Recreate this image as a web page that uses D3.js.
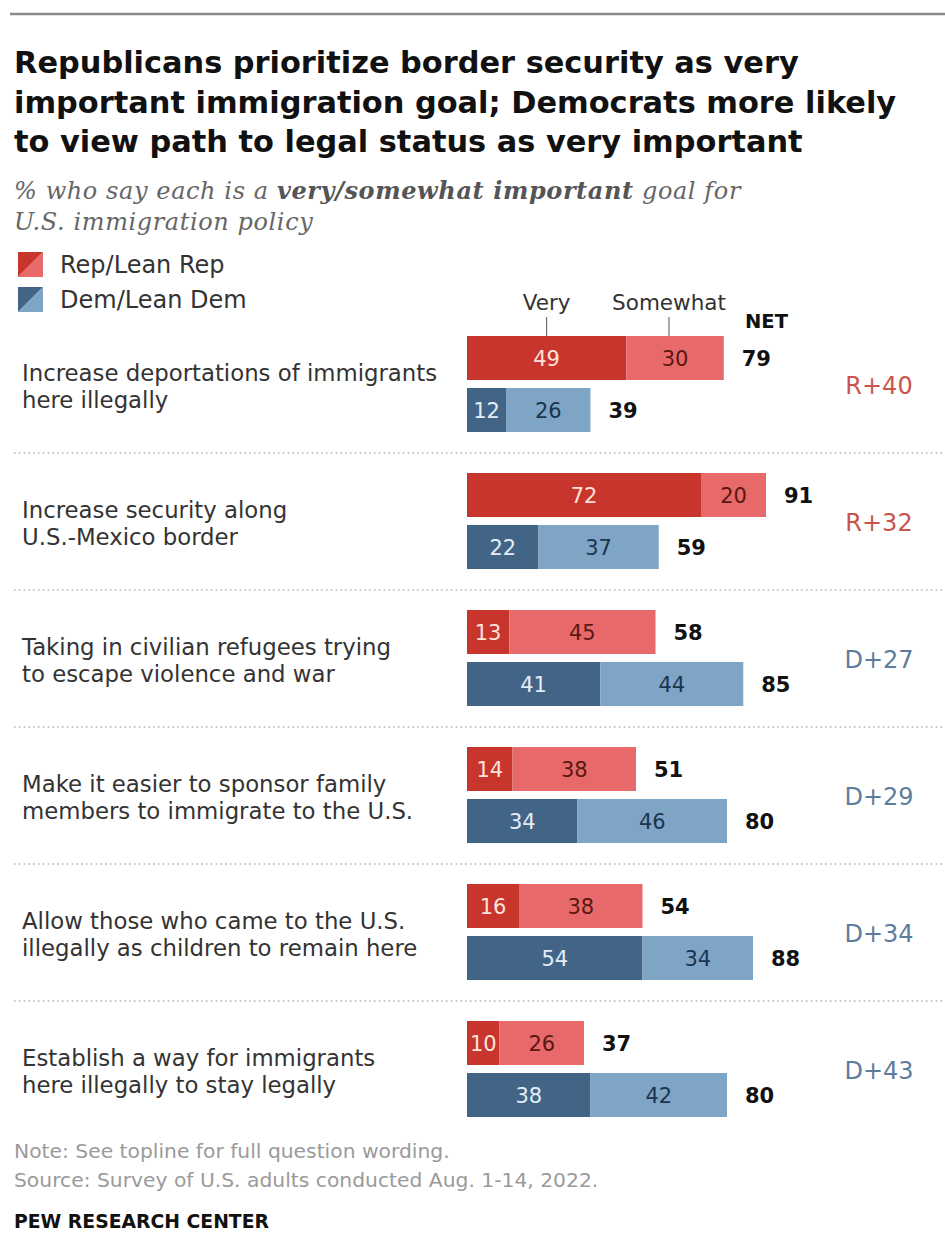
<!DOCTYPE html>
<html>
<head>
<meta charset="utf-8">
<script src="https://cdn.jsdelivr.net/npm/d3@7"></script>
<style>
  body { margin: 0; background: #fff; }
  text { font-family: "DejaVu Sans", sans-serif; }
</style>
</head>
<body>
<div id="chart"></div>
<script>
/* Pew partisan goals chart */

const categories = [
  ["Increase deportations of immigrants", "here illegally"],
  ["Increase security along", "U.S.-Mexico border"],
  ["Taking in civilian refugees trying", "to escape violence and war"],
  ["Make it easier to sponsor family", "members to immigrate to the U.S."],
  ["Allow those who came to the U.S.", "illegally as children to remain here"],
  ["Establish a way for immigrants", "here illegally to stay legally"]
]
const repVery = [49, 72, 13, 14, 16, 10]
const repSomewhat = [30, 20, 45, 38, 38, 26]
const repNet = [79, 91, 58, 51, 54, 37]
const demVery = [12, 22, 41, 34, 54, 38]
const demSomewhat = [26, 37, 44, 46, 34, 42]
const demNet = [39, 59, 85, 80, 88, 80]
const gaps = ["R+40", "R+32", "D+27", "D+29", "D+34", "D+43"]

const W = 945, H = 1252
const colors = {
  repDark: "#c8352c", repLight: "#e8696a",
  demDark: "#426587", demLight: "#7ea5c6"
}

const svg = d3.select("#chart").append("svg")
  .attr("width", W)
  .attr("height", H)

// top rule
svg.append("line")
  .attr("x1", 10).attr("x2", W)
  .attr("y1", 14).attr("y2", 14)
  .attr("stroke", "#8a8a8a")
  .attr("stroke-width", 2.5)

// title
const titleLines = [
  "Republicans prioritize border security as very",
  "important immigration goal; Democrats more likely",
  "to view path to legal status as very important"
]
svg.selectAll(".title")
  .data(titleLines)
  .join("text")
  .attr("class", "title")
  .attr("x", 14)
  .attr("y", (d, i) => 73 + i * 39.5)
  .style("font-size", "30.4px")
  .style("font-weight", "bold")
  .style("fill", "#111")
  .text(d => d)

// subtitle
const subStyle = sel => sel
  .style("font-family", "'DejaVu Serif', serif")
  .style("font-style", "italic")
  .style("font-size", "24px")
  .style("letter-spacing", "0.6px")
  .style("fill", "#666")
const sub = svg.append("text")
  .attr("x", 14).attr("y", 199)
  .call(subStyle)
sub.append("tspan").text("% who say each is a ")
sub.append("tspan").style("font-weight", "bold").style("fill", "#555").text("very/somewhat important")
sub.append("tspan").text(" goal for")
svg.append("text")
  .attr("x", 14).attr("y", 230)
  .call(subStyle)
  .text("U.S. immigration policy")

// legend with diagonal split swatches
const legend = [
  { label: "Rep/Lean Rep", dark: colors.repDark, light: colors.repLight },
  { label: "Dem/Lean Dem", dark: colors.demDark, light: colors.demLight }
]
legend.forEach((d, i) => {
  let y = 252 + i * 35
  let g = svg.append("g").attr("transform", `translate(18,${y})`)
  g.append("path").attr("d", "M0,0H25L0,25Z").attr("fill", d.dark)
  g.append("path").attr("d", "M25,0V25H0Z").attr("fill", d.light)
  svg.append("text")
    .attr("x", 60).attr("y", y + 21)
    .style("font-size", "24px")
    .style("fill", "#333")
    .text(d.label)
})

// scales
const x = d3.scaleLinear().domain([0, 100]).range([467, 792])
const y = d3.scaleBand()
  .domain(d3.range(categories.length))
  .range([316, 316 + 137 * categories.length])
const barH = 44

const rows = categories.map((c, i) => ({
  label: c,
  bars: [
    { very: repVery[i], some: repSomewhat[i], net: repNet[i], off: 20, dark: colors.repDark, light: colors.repLight, txtDark: "#fde2da", txtLight: "#5a1812" },
    { very: demVery[i], some: demSomewhat[i], net: demNet[i], off: 72, dark: colors.demDark, light: colors.demLight, txtDark: "#e2edf7", txtLight: "#1b3450" }
  ],
  gap: gaps[i]
}))

// column headers
const headY = 310
const veryX = x(repVery[0] / 2)
const someX = x(repVery[0] + repSomewhat[0] / 2) - 6
;[["Very", veryX], ["Somewhat", someX]].forEach(([t, cx]) => {
  svg.append("text")
    .attr("x", cx).attr("y", headY)
    .attr("text-anchor", "middle")
    .style("font-size", "21.5px")
    .style("fill", "#333")
    .text(t)
  svg.append("line")
    .attr("x1", cx).attr("x2", cx)
    .attr("y1", 317).attr("y2", y(0) + 20)
    .attr("stroke", "#555")
})
svg.append("text")
  .attr("x", 745).attr("y", 328)
  .style("font-size", "19.5px")
  .style("font-weight", "bold")
  .style("fill", "#111")
  .text("NET")

// dotted separators
svg.selectAll(".sep")
  .data(d3.range(1, categories.length))
  .join("line")
  .attr("class", "sep")
  .attr("x1", 14).attr("x2", W)
  .attr("y1", d => y(d)).attr("y2", d => y(d))
  .attr("stroke", "#b0b0b0")
  .attr("stroke-width", 1.5)
  .attr("stroke-dasharray", "1.5,3.3")

const group = svg.selectAll(".row")
  .data(rows)
  .join("g")
  .attr("class", "row")
  .attr("transform", (d, i) => `translate(0,${y(i)})`)

// category labels
group.append("text")
  .style("font-size", "22.8px")
  .style("fill", "#333")
  .selectAll("tspan")
  .data(d => d.label)
  .join("tspan")
  .attr("x", 22)
  .attr("y", (d, i) => 65 + i * 27)
  .text(d => d)

// bars
const bar = group.selectAll(".bar")
  .data(d => d.bars)
  .join("g")
  .attr("class", "bar")
  .attr("transform", d => `translate(0,${d.off})`)

bar.append("rect")
  .attr("x", x(0))
  .attr("width", d => x(d.very) - x(0))
  .attr("height", barH)
  .attr("fill", d => d.dark)
bar.append("rect")
  .attr("x", d => x(d.very))
  .attr("width", d => x(d.very + d.some) - x(d.very))
  .attr("height", barH)
  .attr("fill", d => d.light)

bar.append("text")
  .attr("x", d => (x(0) + x(d.very)) / 2)
  .attr("y", barH / 2 + 7.5)
  .attr("text-anchor", "middle")
  .style("font-size", "21px")
  .style("fill", d => d.txtDark)
  .text(d => d.very)
bar.append("text")
  .attr("x", d => (x(d.very) + x(d.very + d.some)) / 2)
  .attr("y", barH / 2 + 7.5)
  .attr("text-anchor", "middle")
  .style("font-size", "21px")
  .style("fill", d => d.txtLight)
  .text(d => d.some)

// net values
bar.append("text")
  .attr("x", d => x(d.very + d.some) + 18)
  .attr("y", barH / 2 + 7.5)
  .style("font-size", "21px")
  .style("font-weight", "bold")
  .style("fill", "#111")
  .text(d => d.net)

// partisan gap
group.append("text")
  .attr("x", 879)
  .attr("y", 68 + 10)
  .attr("text-anchor", "middle")
  .style("font-size", "24px")
  .style("fill", d => d.gap[0] === "R" ? "#c9544d" : "#5e7c9b")
  .text(d => d.gap)

// footer
svg.append("text")
  .attr("x", 14).attr("y", 1158)
  .style("font-size", "20.3px")
  .style("fill", "#9a9a9a")
  .text("Note: See topline for full question wording.")
svg.append("text")
  .attr("x", 14).attr("y", 1187)
  .style("font-size", "20.3px")
  .style("fill", "#9a9a9a")
  .text("Source: Survey of U.S. adults conducted Aug. 1-14, 2022.")
svg.append("text")
  .attr("x", 14).attr("y", 1228)
  .style("font-size", "18.8px")
  .style("font-weight", "bold")
  .style("fill", "#111")
  .text("PEW RESEARCH CENTER")
</script>
</body>
</html>
